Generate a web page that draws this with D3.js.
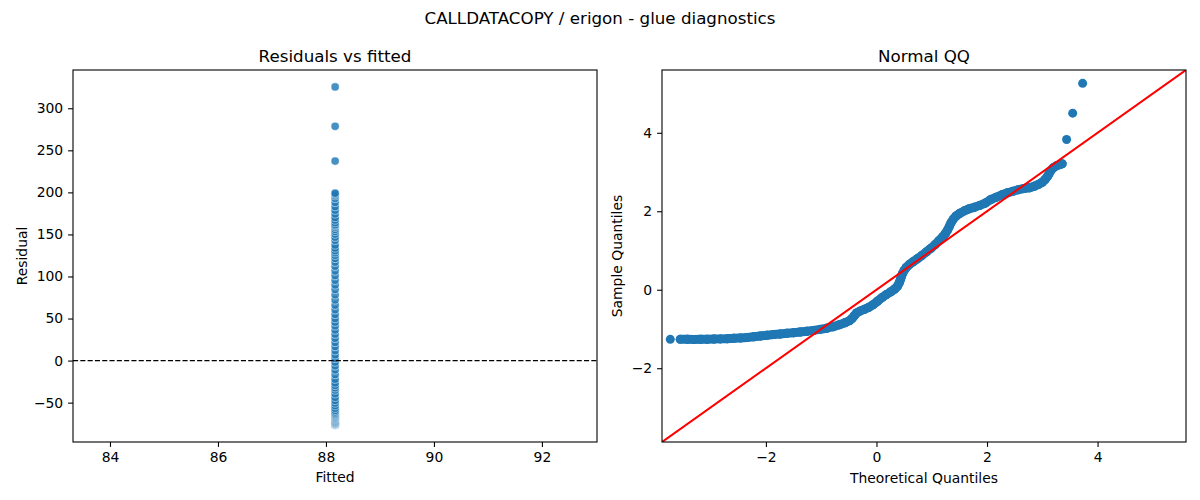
<!DOCTYPE html>
<html><head><meta charset="utf-8">
<script src="https://cdn.jsdelivr.net/npm/d3@7"></script>
<style>
body{margin:0;background:#fff}
text{font-family:"DejaVu Sans",sans-serif;fill:#000}
</style>
</head><body>
<svg id="c" width="1200" height="500"></svg>
<script>
// ---- data ----
const suptitle = "CALLDATACOPY / erigon - glue diagnostics";
const fittedValue = 88.17;                 // single fitted value
const residualSD = 61.63;                  // residual = sample quantile * SD + mean
const residualMean = 1.2;
const qqTheoretical = [-3.73,-3.55,-3.42,-3.30,-3.18,-3.06,-2.94,-2.82,-2.70,-2.58,-2.46,-2.34,-2.22,-2.10,-1.98,-1.86,-1.74,-1.62,-1.50,-1.38,-1.26,-1.14,-1.02,-0.90,-0.78,-0.67,-0.57,-0.49,-0.44,-0.40,-0.36,-0.30,-0.22,-0.14,-0.06,0.02,0.10,0.18,0.26,0.33,0.38,0.41,0.43,0.45,0.47,0.50,0.54,0.60,0.67,0.74,0.82,0.90,0.98,1.06,1.13,1.20,1.25,1.29,1.32,1.35,1.39,1.44,1.51,1.59,1.67,1.77,1.87,1.97,2.07,2.17,2.27,2.37,2.47,2.57,2.67,2.77,2.86,2.94,3.00,3.05,3.09,3.12,3.15,3.20,3.26,3.32,3.36,3.44,3.55,3.73];
const qqSample = [-1.264,-1.264,-1.264,-1.265,-1.264,-1.261,-1.257,-1.252,-1.246,-1.238,-1.228,-1.215,-1.198,-1.178,-1.160,-1.143,-1.127,-1.111,-1.094,-1.076,-1.057,-1.036,-1.010,-0.980,-0.940,-0.890,-0.840,-0.790,-0.730,-0.660,-0.590,-0.545,-0.500,-0.450,-0.380,-0.290,-0.200,-0.120,-0.050,0.020,0.090,0.170,0.250,0.330,0.410,0.490,0.570,0.650,0.720,0.790,0.870,0.960,1.050,1.150,1.250,1.350,1.440,1.530,1.620,1.710,1.800,1.880,1.950,2.010,2.060,2.100,2.150,2.210,2.300,2.360,2.420,2.470,2.510,2.550,2.580,2.600,2.640,2.690,2.740,2.810,2.880,2.950,3.030,3.110,3.160,3.190,3.210,3.830,4.500,5.260];
const residTicks = [-50,0,50,100,150,200,250,300];
const fittedTicks = [84,86,88,90,92];
const qqTicks = [-2,0,2,4];
const residDomain = [-96.8, 345.5];
const fittedDomain = [83.315, 93.02];
const qqDomain = [-3.88, 5.6];

// ---- layout ----
const svg = d3.select("#c");
const L = {x0:73, x1:597, y0:70, y1:442};
const R = {x0:662, x1:1186, y0:70, y1:442};
const C0 = "#1f77b4";
const tickFont = "13.9px", titleFont = "16.7px";

svg.append("text").attr("x",600).attr("y",24).attr("text-anchor","middle")
  .attr("font-size",titleFont).text(suptitle);

function styleAxis(g){
  g.select(".domain").remove();
  g.selectAll(".tick line").attr("stroke","#000").attr("stroke-width",1.1);
  g.selectAll(".tick text").attr("font-size",tickFont).attr("font-family","DejaVu Sans").attr("fill","#000");
}
function frame(P){
  svg.append("rect").attr("x",P.x0).attr("y",P.y0).attr("width",P.x1-P.x0).attr("height",P.y1-P.y0)
    .attr("fill","none").attr("stroke","#000").attr("stroke-width",1.1);
}

// ---- left: residuals vs fitted ----
const xL = d3.scaleLinear().domain(fittedDomain).range([L.x0,L.x1]);
const yL = d3.scaleLinear().domain(residDomain).range([L.y1,L.y0]);
const residuals = qqSample.map(s => s*residualSD + residualMean);

const defs = svg.append("defs");
defs.append("clipPath").attr("id","clipL").append("rect")
  .attr("x",L.x0).attr("y",L.y0).attr("width",L.x1-L.x0).attr("height",L.y1-L.y0);
defs.append("clipPath").attr("id","clipR").append("rect")
  .attr("x",R.x0).attr("y",R.y0).attr("width",R.x1-R.x0).attr("height",R.y1-R.y0);

const gL = svg.append("g").attr("clip-path","url(#clipL)");
gL.selectAll("circle").data(residuals).join("circle")
  .attr("cx",xL(fittedValue)).attr("cy",d=>yL(d)).attr("r",4.1)
  .attr("fill",C0).attr("fill-opacity",0.82)
  .attr("stroke","#fff").attr("stroke-opacity",0.7).attr("stroke-width",0.7);
gL.append("line").attr("x1",L.x0).attr("x2",L.x1).attr("y1",yL(0)).attr("y2",yL(0))
  .attr("stroke","#000").attr("stroke-width",1.39).attr("stroke-dasharray","5.1,2.2");

svg.append("g").attr("transform",`translate(0,${L.y1})`)
  .call(d3.axisBottom(xL).tickValues(fittedTicks).tickFormat(d3.format("d")).tickSize(4.9).tickPadding(4.9))
  .call(styleAxis);
svg.append("g").attr("transform",`translate(${L.x0},0)`)
  .call(d3.axisLeft(yL).tickValues(residTicks).tickFormat(d3.format("d")).tickSize(4.9).tickPadding(4.9))
  .call(styleAxis);
frame(L);
svg.append("text").attr("x",(L.x0+L.x1)/2).attr("y",62).attr("text-anchor","middle")
  .attr("font-size",titleFont).text("Residuals vs fitted");
svg.append("text").attr("x",(L.x0+L.x1)/2).attr("y",482).attr("text-anchor","middle")
  .attr("font-size",tickFont).text("Fitted");
svg.append("text").attr("transform",`translate(26.5,${(L.y0+L.y1)/2}) rotate(-90)`)
  .attr("text-anchor","middle").attr("font-size",tickFont).text("Residual");

// ---- right: normal QQ ----
const xR = d3.scaleLinear().domain(qqDomain).range([R.x0,R.x1]);
const yR = d3.scaleLinear().domain(qqDomain).range([R.y1,R.y0]);
const qq = qqTheoretical.map((t,i)=>({t, s:qqSample[i]}));
const gR = svg.append("g").attr("clip-path","url(#clipR)");
// continuous band between neighbouring markers
const segs = [];
for(let i=1;i<qq.length;i++){
  const a=qq[i-1], b=qq[i];
  const d=Math.hypot(xR(b.t)-xR(a.t), yR(b.s)-yR(a.s));
  if(d<9.5) segs.push([a,b]);
}
gR.selectAll("line.band").data(segs).join("line").attr("class","band")
  .attr("x1",d=>xR(d[0].t)).attr("y1",d=>yR(d[0].s)).attr("x2",d=>xR(d[1].t)).attr("y2",d=>yR(d[1].s))
  .attr("stroke",C0).attr("stroke-width",9).attr("stroke-linecap","round");
gR.selectAll("circle").data(qq).join("circle")
  .attr("cx",d=>xR(d.t)).attr("cy",d=>yR(d.s)).attr("r",4.5).attr("fill",C0);
gR.append("line").attr("x1",xR(qqDomain[0])).attr("y1",yR(qqDomain[0]))
  .attr("x2",xR(qqDomain[1])).attr("y2",yR(qqDomain[1]))
  .attr("stroke","red").attr("stroke-width",2.08);

svg.append("g").attr("transform",`translate(0,${R.y1})`)
  .call(d3.axisBottom(xR).tickValues(qqTicks).tickFormat(d3.format("d")).tickSize(4.9).tickPadding(4.9))
  .call(styleAxis);
svg.append("g").attr("transform",`translate(${R.x0},0)`)
  .call(d3.axisLeft(yR).tickValues(qqTicks).tickFormat(d3.format("d")).tickSize(4.9).tickPadding(4.9))
  .call(styleAxis);
frame(R);
svg.append("text").attr("x",(R.x0+R.x1)/2).attr("y",62).attr("text-anchor","middle")
  .attr("font-size",titleFont).text("Normal QQ");
svg.append("text").attr("x",(R.x0+R.x1)/2).attr("y",483).attr("text-anchor","middle")
  .attr("font-size",tickFont).text("Theoretical Quantiles");
svg.append("text").attr("transform",`translate(622,${(R.y0+R.y1)/2}) rotate(-90)`)
  .attr("text-anchor","middle").attr("font-size",tickFont).text("Sample Quantiles");
</script>
</body></html>
